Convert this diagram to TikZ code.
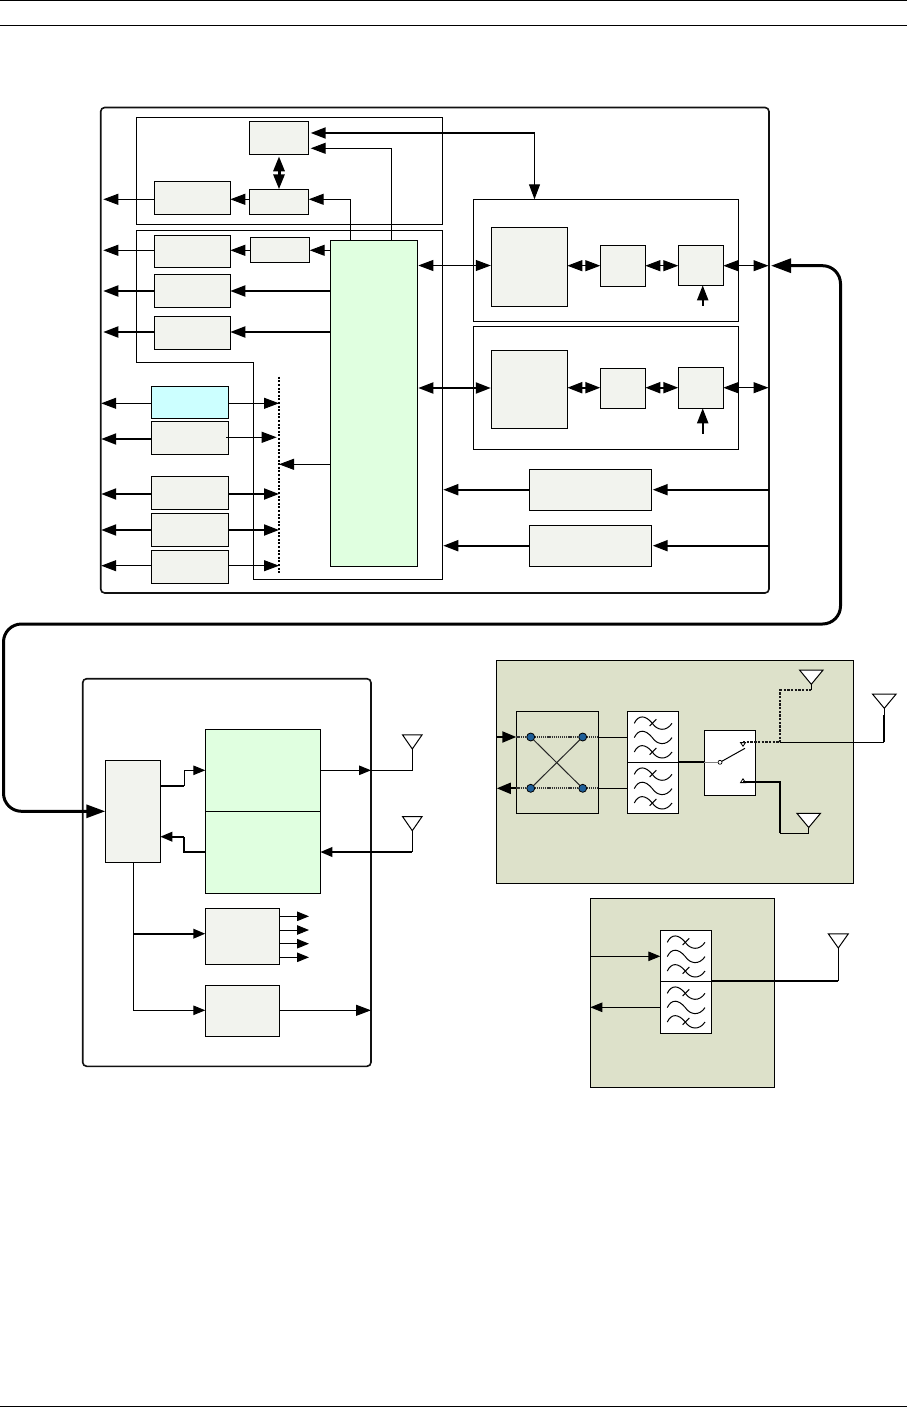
\documentclass[tikz,border=0pt]{standalone}
\usetikzlibrary{arrows.meta,calc}
\definecolor{blockfill}{HTML}{F2F3EE}
\definecolor{greenfill}{HTML}{E0FFE0}
\definecolor{cyanfill}{HTML}{CCFFFF}
\definecolor{olivefill}{HTML}{DDE1CA}
\definecolor{dotblue}{HTML}{1F5F99}
\definecolor{edgedark}{HTML}{111111}
\newcommand\bx[6][]{%
  \pgfmathsetmacro\bxw{#5-#3}\pgfmathsetmacro\bxh{#6-#4}%
  \pgfmathsetmacro\bxx{(#3+#5)/2}\pgfmathsetmacro\bxy{(#4+#6)/2}%
  \node[#1,minimum width=\bxw pt,minimum height=\bxh pt] (#2) at (\bxx,\bxy) {};}
\tikzset{
  blk/.style={draw=black,line width=1pt,inner sep=0pt,outer sep=0pt},
  plainblk/.style={blk,fill=blockfill},
  greenblk/.style={blk,fill=greenfill},
  whiteblk/.style={blk,fill=white},
  shell/.style={blk,draw=edgedark,line width=1.6pt,rounded corners=4pt},
  wire/.style={line width=1pt,line cap=butt},
  hvy/.style={line width=2pt,line cap=butt},
  fat/.style={line width=3pt},
  hr/.style={-{Triangle[length=15pt,width=11pt]}},
  hl/.style={{Triangle[length=15pt,width=11pt]}-},
  hb/.style={{Triangle[length=15pt,width=11pt]}-{Triangle[length=15pt,width=11pt]}},
  sr/.style={-{Triangle[length=12pt,width=9.5pt]}},
  sl/.style={{Triangle[length=12pt,width=9.5pt]}-},
  jdot/.style={circle,draw=black,line width=0.8pt,fill=dotblue,minimum size=8pt,inner sep=0pt,outer sep=0pt},
  pdot/.style={circle,draw=black,line width=0.7pt,fill=white,minimum size=4pt,inner sep=0pt,outer sep=0pt},
  pics/antenna/.style={code={
    \coordinate (-tip) at (0,0);
    \draw[line width=1pt,fill=white,line join=miter] (-#1,-14.2) -- (#1,-14.2) -- (0,0) -- cycle;}},
  pics/wavefilter/.style={code={
    \foreach \wy in {12,26.3,40.7}{
      \draw[line width=1pt] (7,\wy) .. controls (11,\wy-8.5) and (18,\wy-8.5) .. (25,\wy)
        .. controls (30,\wy+7.5) and (39,\wy+8.5) .. (44.7,\wy);}
    \draw[line width=1pt] (22.3,14.7) -- (29,8);
    \draw[line width=1pt] (22.3,43.4) -- (29,36.7);}}
}
\begin{document}
\begin{tikzpicture}[x=1pt,y=-1pt]
\useasboundingbox (0,0) rectangle (907,1407);
% page rules
\coordinate (hl1) at (0,0.7); \coordinate (hr1) at (907,0.7);
\coordinate (hl2) at (0,25.3); \coordinate (hr2) at (907,25.3);
\coordinate (fl) at (0,1406.3); \coordinate (fr) at (907,1406.3);
\draw[line width=1pt] (hl1) -- (hr1);
\draw[line width=1pt] (hl2) -- (hr2);
\draw[line width=1pt] (fl) -- (fr);

% ---------- upper module
\bx[shell]{modA}{100.7}{107.5}{769}{593}
\bx[blk]{secA}{136.3}{117.3}{442.3}{224.3}
\draw[line width=1pt] (136.3,230.3) -- (442.3,230.3) -- (442.3,579.3) -- (253.3,579.3) -- (253.3,362.3) -- (136.3,362.3) -- cycle;
\bx[blk]{secC}{473.3}{199.3}{738.3}{321.3}
\bx[blk]{secD}{473.3}{326.3}{738.3}{449.3}

\bx[plainblk]{ta}{249.3}{121.3}{308.7}{154.3}
\bx[plainblk]{tb}{249.3}{189.3}{308.7}{214.3}
\bx[plainblk]{ra}{154.3}{181.3}{230.3}{214.3}
\bx[plainblk]{rb}{154.3}{235.3}{230.3}{267.3}
\bx[plainblk]{sb}{250.3}{237.3}{309.7}{262.3}
\bx[plainblk]{rc}{154.3}{274.3}{230.3}{307.3}
\bx[plainblk]{rd}{154.3}{316.3}{230.3}{349.3}
\bx[greenblk]{cpu}{330.3}{240.3}{417.3}{566.3}
\bx[blk,fill=cyanfill]{pa}{151.3}{386.3}{228.3}{418.3}
\bx[plainblk]{pb}{151.3}{421.3}{228.3}{454.3}
\bx[plainblk]{pc}{151.3}{476.3}{228.3}{509.3}
\bx[plainblk]{pd}{151.3}{513.3}{228.3}{546.3}
\bx[plainblk]{pe}{151.3}{550.3}{228.3}{583.3}
\bx[plainblk]{la}{491.3}{227.3}{567.3}{306.3}
\bx[plainblk]{ma}{600.3}{245.3}{645.3}{286.3}
\bx[plainblk]{na}{678.3}{245.3}{723.3}{285.3}
\bx[plainblk]{lb}{491.3}{350.3}{567.3}{428.3}
\bx[plainblk]{mb}{600.3}{368.3}{645.3}{408.3}
\bx[plainblk]{nb}{678.3}{367.3}{723.3}{408.3}
\bx[plainblk]{wa}{529.3}{469.3}{651.7}{510.3}
\bx[plainblk]{wb}{529.3}{525.3}{651.7}{566.3}

\coordinate (edgeU) at (103.3,0);
\coordinate (edgeL) at (101.2,0);
\coordinate (crn) at (534.5,133);
\coordinate (bustop) at (279,376.7);
\coordinate (busbot) at (279,574);
\coordinate (rimR) at (768.5,0);
\coordinate (upa) at (702.7,305.7);
\coordinate (upb) at (702.7,433.7);

\draw[line width=2.2pt,dash pattern=on 2pt off 1.6pt] (bustop) -- (busbot);

\draw[hvy,hl,shorten <=2pt] (ta.east |- crn) -- (crn);
\draw[wire,hr] (crn) -- (crn |- secC.north);
\draw[wire,hl,shorten <=2pt] (ta.east |- 0,148.3) -| (391.7,0 |- cpu.north);
\draw[wire,hl] (tb.east |- 0,199.3) -| (350.3,0 |- cpu.north);
\draw[line width=3pt,hb] (ta.south) ++(0,2) -- ($(tb.north)+(0,0)$);
\draw[wire,hl] (ra.east |- 0,199.3) -- (tb.west |- 0,199.3);
\draw[wire,hl] (edgeU |- 0,199.3) -- (ra.west |- 0,199.3);

\draw[wire,hl] (edgeU |- 0,250.3) -- (rb.west |- 0,250.3);
\draw[wire,hl] (rb.east |- 0,250.3) -- (sb.west |- 0,250.3);
\draw[wire,hl] (sb.east |- 0,250.3) -- (cpu.west |- 0,250.3);
\draw[hvy,hl] (edgeU |- 0,291) -- (rc.west |- 0,291);
\draw[hvy,hl] (rc.east |- 0,291) -- (cpu.west |- 0,291);
\draw[hvy,hl] (edgeU |- 0,332) -- (rd.west |- 0,332);
\draw[hvy,hl] (rd.east |- 0,332) -- (cpu.west |- 0,332);

\draw[wire,hl] (edgeL |- 0,403.3) -- (pa.west |- 0,403.3);
\draw[hvy,hl] (edgeL |- 0,439) -- (pb.west |- 0,439);
\draw[hvy,hl] (edgeL |- 0,494) -- (pc.west |- 0,494);
\draw[hvy,hl] (edgeL |- 0,530) -- (pd.west |- 0,530);
\draw[wire,hl] (edgeL |- 0,565.7) -- (pe.west |- 0,565.7);

\draw[wire,hr] (pa.east |- 0,403.3) -- (bustop |- 0,403.3);
\draw[wire,hr] (226,437.3) -- (276.7,437.3);
\draw[hvy,hr] (pc.east |- 0,494) -- (bustop |- 0,494);
\draw[hvy,hr] (pd.east |- 0,530) -- (bustop |- 0,530);
\draw[wire,hr] (pe.east |- 0,565.7) -- (bustop |- 0,565.7);
\draw[wire,hl] (bustop |- 0,464.3) -- (cpu.west |- 0,464.3);

\draw[wire,hb,shorten <=1pt,shorten >=0.5pt] (cpu.east |- 0,265.5) -- (la.west |- 0,265.5);
\draw[hvy,hb,shorten <=1pt,shorten >=0.5pt] (cpu.east |- 0,388) -- (lb.west |- 0,388);

\draw[wire,hb] (la.east |- 0,265.7) -- (ma.west |- 0,265.7);
\draw[wire,hb] (ma.east |- 0,265.7) -- (na.west |- 0,265.7);
\draw[wire,hb] (na.east |- 0,265.7) -- (rimR |- 0,265.7);
\draw[hvy,hb] (lb.east |- 0,387.7) -- (mb.west |- 0,387.7);
\draw[hvy,hb] (mb.east |- 0,387.7) -- (nb.west |- 0,387.7);
\draw[line width=1.2pt,hb] (nb.east |- 0,387.7) -- (rimR |- 0,387.7);
\draw[hvy,hr] (upa) -- (upa |- na.south);
\draw[hvy,hr] (upb) -- (upb |- nb.south);

\draw[hvy,hl,shorten <=1pt] (442.3,489.7) -- (wa.west |- 0,489.7);
\draw[hvy,hl,shorten <=1pt] (wa.east |- 0,489.7) -- (modA.east |- 0,489.7);
\draw[hvy,hl,shorten <=1pt] (442.3,545.7) -- (wb.west |- 0,545.7);
\draw[hvy,hl,shorten <=1pt] (wb.east |- 0,545.7) -- (modA.east |- 0,545.7);

% ---------- lower left module
\bx[shell]{modB}{82.7}{678.7}{371}{1066.3}
\bx[plainblk]{ctl}{105.3}{760.3}{160.3}{862.3}
\bx[greenblk]{gtop}{205.3}{729.3}{320.3}{811.3}
\bx[greenblk]{gbot}{205.3}{811.3}{320.3}{893.3}
\bx[plainblk]{dv}{205.3}{908.3}{279.3}{964.3}
\bx[plainblk]{cv}{205.3}{985.3}{279.3}{1036.3}

\pic (anta) at (412.3,749) {antenna=9.8};
\pic (antb) at (412.3,830.7) {antenna=9.8};

\coordinate (kinkx) at (184.3,0);
\draw[hvy] (ctl.east |- 0,785.7) -- (kinkx |- 0,785.7);
\draw[wire,sr] (kinkx |- 0,785.7) -- (kinkx |- 0,770.3) -- (gtop.west |- 0,770.3);
\draw[hvy] (gbot.west |- 0,852) -- (kinkx |- 0,852) -- (kinkx |- 0,836.7);
\draw[hvy,sl] (ctl.east |- 0,836.7) -- (kinkx |- 0,836.7);
\draw[wire,sr] (gtop.east |- 0,770.3) -- (modB.east |- 0,770.3);
\draw[wire] (modB.east |- 0,770.3) -| (anta-tip);
\draw[hvy,sl] (gbot.east |- 0,852) -- (antb-tip |- 0,852);
\draw[wire] (antb-tip) -- (antb-tip |- 0,852);

\coordinate (drop) at (133.3,0);
\draw[wire,sr] (drop |- ctl.south) |- (cv.west |- 0,1010.3);
\draw[hvy,sr] (drop |- 0,933.7) -- (dv.west |- 0,933.7);
\foreach \qy in {916.3,930,943.7,957.3}{
  \draw[wire,sr] (dv.east |- 0,\qy) -- (309,\qy);
}
\draw[wire,hr] (cv.east |- 0,1010.3) -- (modB.east |- 0,1010.3);

% ---------- long bus link
\coordinate (busstart) at (771,265.7);
\draw[fat,rounded corners=18pt,{Triangle[length=20pt,width=14pt]}-{Triangle[length=19pt,width=13pt]}]
  (busstart) -- (840.5,265.7) -- (840.5,624) -- (3.5,624) -- (3.5,811.3) -- (ctl.west |- 0,811.3);

% ---------- front end, upper right
\bx[blk,fill=olivefill]{feA}{496.3}{660.3}{853.3}{883.3}
\bx[blk,fill=olivefill]{xbox}{516.3}{711.3}{598.7}{813.3}
\bx[whiteblk]{fa}{627.3}{711.3}{678.7}{762.3}
\bx[whiteblk]{fb}{627.3}{762.3}{678.7}{813.3}
\bx[whiteblk]{swb}{704.3}{730.3}{755.7}{795.3}
\pic at (fa.north west) {wavefilter};
\pic at (fb.north west) {wavefilter};

\node[jdot] (d1) at (530.7,737) {};
\node[jdot] (d2) at (582.7,737) {};
\node[jdot] (d3) at (530.7,788.3) {};
\node[jdot] (d4) at (582.7,788.3) {};
\draw[hvy,-{Triangle[length=14pt,width=11pt]}] (feA.west |- d1) -- (xbox.west |- d1);
\draw[hvy,{Triangle[length=14pt,width=11pt]}-] ($(feA.west |- d3)+(0.5,0)$) -- (xbox.west |- d3);
\foreach \pa/\pb in {xbox.west |- d1/d1.west,d1.east/d2.west,d2.east/xbox.east |- d2,xbox.west |- d3/d3.west,d3.east/d4.west,d4.east/xbox.east |- d4}{
  \draw[line width=1.7pt,draw=black!80,dash pattern=on 1.2pt off 0.9pt] (\pa) -- (\pb);
}
\draw[line width=1pt,draw=black!85] (d1) -- (d4);
\draw[line width=1pt,draw=black!85] (d2) -- (d3);
\draw[wire] (xbox.east |- d1) -- (fa.west |- d1);
\draw[wire] (xbox.east |- d3) -- (fb.west |- d3);

\node[pdot] (pv) at (720,762.3) {};
\coordinate (cu) at (743,742.3);
\coordinate (cl) at (743,782.3);
\draw[hvy] (fa.south east) -- (swb.west |- fa.south east);
\draw[line width=1.2pt,draw=black!50] (swb.west |- fa.south east) -- (pv);
\draw[wire] (pv) -- (745,748.3);
\draw[line width=0.8pt,fill=white] (740.5,742.6) -- (745.5,742.6) -- (743,746.2) -- cycle;
\draw[line width=0.8pt,fill=white] (740.5,782.6) -- (745.5,782.6) -- (743,778.8) -- cycle;

\pic (antc) at (811.3,684.3) {antenna=11.7};
\pic (antd) at (884.3,708.3) {antenna=11.8};
\pic (ante) at (808.7,827.5) {antenna=11.8};

\coordinate (fork) at (780.3,742.3);
\draw[line width=2pt,dash pattern=on 2.4pt off 1.3pt,draw=black!90] (cu) -- (fork) -- (fork |- 0,690.3) -- (antc-tip |- 0,690.3);
\draw[wire] (antc-tip |- 0,690.3) -- (antc-tip);
\draw[wire] (fork) -- (antd-tip |- fork);
\draw[hvy] (antd-tip |- fork) -- (antd-tip |- 0,715);
\draw[wire] (antd-tip |- 0,715) -- (antd-tip);
\draw[hvy] (cl) -- (fork |- cl) -- (fork |- 0,833.3);
\draw[wire] (fork |- 0,833.3) -| (ante-tip);

% ---------- front end, lower
\bx[blk,fill=olivefill]{feB}{590.3}{898.3}{774.7}{1087.3}
\bx[whiteblk]{fc}{660.3}{930.3}{711.3}{981.3}
\bx[whiteblk]{fd}{660.3}{981.3}{711.3}{1033.3}
\pic at (fc.north west) {wavefilter};
\pic at (fd.north west) {wavefilter};
\pic (antf) at (838.3,948) {antenna=10};
\draw[wire,sr] (feB.west |- 0,956.3) -- (fc.west |- 0,956.3);
\draw[wire,sl] (feB.west |- 0,1007.3) -- (fd.west |- 0,1007.3);
\draw[hvy] (fc.south east) -- (antf-tip |- fc.south east);
\draw[wire] (antf-tip |- fc.south east) -- (antf-tip);
\end{tikzpicture}
\end{document}
